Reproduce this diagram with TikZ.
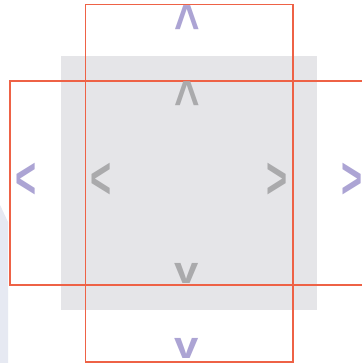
\documentclass[tikz,border=0pt]{standalone}
\usepackage{fontspec}
\setmainfont{Liberation Sans}
\usetikzlibrary{calc}
\definecolor{panelgray}{RGB}{229,229,232}
\definecolor{edgered}{RGB}{238,98,70}
\definecolor{outerarrow}{RGB}{172,164,212}
\definecolor{innerarrow}{RGB}{170,170,172}
\definecolor{stripblue}{RGB}{230,233,242}
\tikzset{
  glyph/.style={inner sep=0pt, outer sep=0pt, font=\fontsize{38}{38}\selectfont\bfseries},
  outer/.style={glyph, text=outerarrow},
  inner/.style={glyph, text=innerarrow},
  frame/.style={draw=edgered},
}
\newcommand{\chevup}{\scalebox{1.15}[1.45]{\symbol{94}}}
\newcommand{\chevdown}{\scalebox{1.15}[1.0]{v}}
\newcommand{\chevleft}{\scalebox{0.95}[1.55]{<}}
\newcommand{\chevright}{\scalebox{0.95}[1.55]{>}}
\begin{document}
\begin{tikzpicture}[x=1pt,y=-1pt]
  \useasboundingbox (0,0) rectangle (361,363);
  \fill[white] (0,0) rectangle (361,363);
  % pale strip at the lower left edge
  \fill[stripblue] (0,205) -- (8,222) -- (8,363) -- (0,363) -- cycle;
  % grey panel
  \fill[panelgray] (61,56) rectangle (317,310);
  % frames
  \draw[frame, line width=1.2pt] (85.5,4.5) rectangle (293,362);
  \draw[frame, line width=2pt] (10,81) rectangle (366,284.5);
  % chevrons
  \node[outer, anchor=base] (upo) at (187,44) {\chevup};
  \node[inner, anchor=base] (upi) at (187,120) {\chevup};
  \node[outer, anchor=base] (lefto) at (26,198) {\chevleft};
  \node[inner, anchor=base] (lefti) at (101,198) {\chevleft};
  \node[inner, anchor=base] (righti) at (277,198) {\chevright};
  \node[outer, anchor=base] (righto) at (352,198) {\chevright};
  \node[inner, anchor=base] (downi) at (187,283) {\chevdown};
  \node[outer, anchor=base] (downo) at (187,358) {\chevdown};
\end{tikzpicture}
\end{document}
